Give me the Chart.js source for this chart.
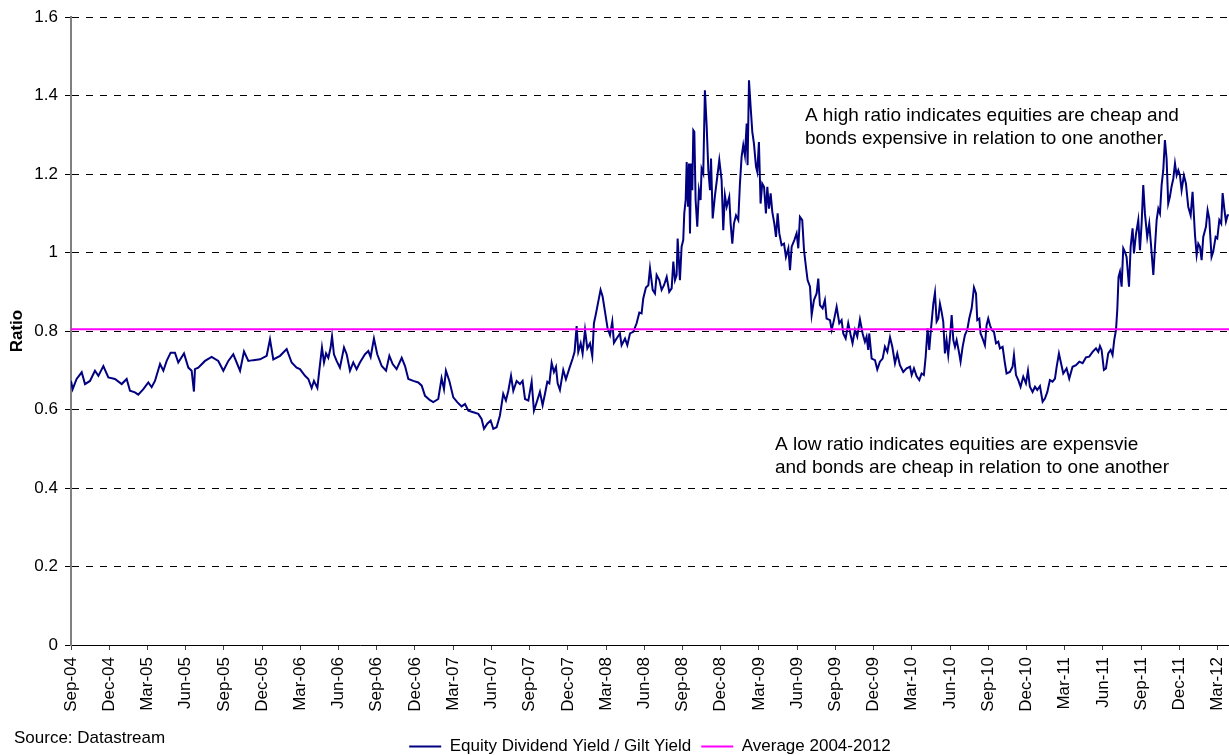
<!DOCTYPE html>
<html>
<head>
<meta charset="utf-8">
<title>Equity Dividend Yield / Gilt Yield</title>
<script src="https://cdn.jsdelivr.net/npm/chart.js@4.4.0/dist/chart.umd.min.js"></script>
<style>
  html, body { margin: 0; padding: 0; overflow: hidden; background: #fff; }
  #wrap { position: relative; width: 1229px; height: 765px; }
  #source { position: absolute; left: 14px; top: 728px; font: 17px/20px "Liberation Sans", Arial, sans-serif; color: #000; }
</style>
</head>
<body>
<div id="wrap">
  <canvas id="ratioChart" width="1229" height="765"></canvas>
  <div id="source">Source: Datastream</div>
</div>
<script>
// x = months since Sep-04
const quarterLabels = ['Sep-04', 'Dec-04', 'Mar-05', 'Jun-05', 'Sep-05', 'Dec-05', 'Mar-06', 'Jun-06',
  'Sep-06', 'Dec-06', 'Mar-07', 'Jun-07', 'Sep-07', 'Dec-07', 'Mar-08', 'Jun-08', 'Sep-08', 'Dec-08',
  'Mar-09', 'Jun-09', 'Sep-09', 'Dec-09', 'Mar-10', 'Jun-10', 'Sep-10', 'Dec-10', 'Mar-11', 'Jun-11',
  'Sep-11', 'Dec-11', 'Mar-12'];
const yTickLabels = ['0', '0.2', '0.4', '0.6', '0.8', '1', '1.2', '1.4', '1.6'];
const xMax = 90.9;
const averageRatio = 0.805;

const obsMonths = [
  // 2004-2006
  0, 0.13, 0.44, 0.84, 1.10, 1.49, 1.88, 2.15, 2.54, 2.93,
  3.45, 3.98, 4.37, 4.63, 5.02, 5.28, 5.68, 6.07, 6.33, 6.59,
  6.99, 7.25, 7.51, 7.82, 8.16, 8.42, 8.87, 9.21, 9.47, 9.65,
  9.73, 9.99, 10.52, 11.04, 11.56, 11.96, 12.35, 12.74, 13.27, 13.58,
  13.92, 14.31, 14.84, 15.36, 15.62, 15.88, 16.41, 16.93, 17.32, 17.71,
  // 2006-2007
  17.97, 18.37, 18.63, 18.89, 19.07, 19.34, 19.49, 19.70, 19.86, 20.02,
  20.20, 20.38, 20.49, 20.64, 20.85, 21.11, 21.43, 21.64, 21.90, 22.16,
  22.42, 22.68, 23.08, 23.34, 23.52, 23.78, 24.04, 24.39, 24.73, 24.99,
  25.25, 25.56, 25.96, 26.22, 26.48, 26.87, 27.26, 27.53, 27.79, 28.18,
  28.44, 28.83, 29.09, 29.28, 29.43, 29.70, 30.01, 30.32, 30.66, 30.93,
  31.19, 31.58, 31.97, 32.23, 32.42, 32.68, 32.94, 33.15, 33.41, 33.67,
  33.93, 34.14, 34.33, 34.54, 34.72, 34.98, 35.24, 35.45, 35.64, 35.90,
  36.16, 36.34, 36.60,
  // 2007-2008
  36.81, 37.02, 37.21, 37.39, 37.55, 37.73, 37.91, 38.07, 38.20, 38.38,
  38.64, 38.85, 39.12, 39.38, 39.53, 39.69, 39.82, 40.01, 40.16, 40.35,
  40.53, 40.74, 40.92, 41.05, 41.21, 41.39, 41.57, 41.73, 41.92, 42.12,
  42.31, 42.49, 42.62, 42.83, 43.09, 43.22, 43.49, 43.67, 43.88, 44.14,
  44.40, 44.61, 44.79, 44.92, 45.13, 45.32, 45.45, 45.66, 45.84, 45.97,
  46.18, 46.36, 46.55, 46.76, 46.96, 47.15, 47.28, 47.41, 47.54, 47.62,
  // 2008-2009
  47.80, 47.93, 48.06, 48.14, 48.25, 48.33, 48.43, 48.51, 48.59, 48.67,
  48.77, 48.85, 48.93, 49.03, 49.16, 49.29, 49.42, 49.50, 49.63, 49.76,
  49.90, 50.03, 50.16, 50.24, 50.37, 50.55, 50.73, 50.89, 51.07, 51.20,
  51.33, 51.47, 51.67, 51.78, 51.91, 52.04, 52.20, 52.38, 52.51, 52.64,
  52.77, 52.90, 53.04, 53.11, 53.22, 53.35, 53.48, 53.61, 53.77, 53.87,
  54.00, 54.13, 54.26, 54.40, 54.55, 54.66, 54.79, 54.92, 55.05, 55.21,
  55.34, 55.47, 55.60, 55.78, 55.97, 56.12, 56.31, 56.44, 56.57, 56.78,
  56.96, 57.09, 57.22, 57.40, 57.54, 57.69, 57.82, 58.01, 58.14, 58.32,
  58.53, 58.66, 58.79, 59.00, 59.18, 59.31, 59.58, 59.71, 59.89, 60.10,
  60.31, 60.49, 60.62, 60.81, 61.01, 61.20, 61.35, 61.54, 61.72, 61.93,
  // 2009-2011
  62.14, 62.32, 62.45, 62.58, 62.66, 62.85, 63.11, 63.29, 63.50, 63.71,
  63.89, 64.08, 64.29, 64.47, 64.68, 64.86, 65.07, 65.33, 65.59, 65.86,
  65.99, 66.17, 66.38, 66.59, 66.77, 66.95, 67.09, 67.24, 67.37, 67.50,
  67.69, 67.82, 67.95, 68.08, 68.21, 68.34, 68.47, 68.60, 68.73, 68.86,
  69.00, 69.13, 69.26, 69.39, 69.52, 69.70, 69.83, 69.99, 70.17, 70.36,
  70.51, 70.70, 70.88, 71.04, 71.14, 71.30, 71.40, 71.56, 71.74, 71.87,
  72.00, 72.14, 72.27, 72.45, 72.61, 72.79, 72.92, 73.13, 73.31, 73.44,
  73.70, 73.91, 74.02, 74.18, 74.36, 74.54, 74.75, 74.96, 75.12, 75.27,
  75.48, 75.67, 75.85, 76.06, 76.27, 76.45, 76.64, 76.84, 77.05, 77.24,
  77.37, 77.55,
  // 2011-2012
  77.89, 78.15, 78.36, 78.62, 78.89, 79.15, 79.41, 79.67, 79.93, 80.19,
  80.46, 80.64, 80.77, 80.90, 81.08, 81.24, 81.42, 81.61, 81.76, 81.89,
  82.03, 82.13, 82.23, 82.34, 82.47, 82.60, 82.73, 82.86, 83.05, 83.18,
  83.33, 83.44, 83.59, 83.78, 83.91, 84.04, 84.17, 84.30, 84.48, 84.64,
  84.77, 84.96, 85.09, 85.22, 85.35, 85.48, 85.61, 85.74, 85.87, 86.00,
  86.13, 86.26, 86.39, 86.53, 86.66, 86.79, 86.92, 87.05, 87.18, 87.36,
  87.52, 87.70, 87.89, 88.04, 88.23, 88.36, 88.49, 88.62, 88.75, 88.88,
  89.09, 89.22, 89.35, 89.53, 89.66, 89.85, 89.98, 90.14, 90.29, 90.40,
  90.53, 90.66, 90.79, 90.89
];

const ratioValues = [
  // 2004-2006
  .673, .652, .678, .695, .665, .673, .699, .686, .711, .682,
  .678, .665, .678, .648, .644, .638, .652, .669, .657, .673,
  .716, .699, .724, .745, .745, .720, .743, .707, .699, .646,
  .703, .707, .724, .734, .724, .699, .724, .741, .699, .748,
  .724, .726, .728, .737, .779, .728, .737, .754, .720, .707,
  // 2006-2007
  .703, .686, .678, .655, .673, .655, .699, .758, .720, .743,
  .732, .758, .787, .741, .724, .707, .758, .741, .699, .720,
  .703, .720, .741, .749, .734, .781, .741, .711, .699, .737,
  .716, .703, .732, .711, .678, .673, .669, .661, .635, .624,
  .619, .627, .680, .652, .699, .673, .631, .619, .608, .614,
  .597, .593, .589, .576, .551, .564, .572, .551, .555, .585,
  .640, .623, .648, .686, .648, .673, .665, .673, .627, .623,
  .671, .597, .623,
  // 2007-2008
  .645, .611, .641, .671, .667, .719, .696, .709, .667, .650,
  .701, .677, .705, .730, .747, .813, .747, .769, .743, .803,
  .756, .769, .736, .820, .845, .875, .905, .888, .849, .807,
  .790, .824, .770, .781, .794, .764, .781, .764, .794, .798,
  .820, .847, .845, .883, .911, .917, .960, .905, .896, .943,
  .930, .905, .917, .938, .900, .909, .977, .930, .943, 1.036,
  // 2008-2009
  .930, 1.015, 1.032, 1.100, 1.134, 1.231, 1.117, 1.227, 1.049, 1.227,
  1.159, 1.312, 1.308, 1.134, 1.066, 1.159, 1.134, 1.214, 1.202, 1.414,
  1.321, 1.210, 1.159, 1.240, 1.087, 1.146, 1.193, 1.236, 1.185, 1.057,
  1.146, 1.117, 1.142, 1.074, 1.023, 1.074, 1.095, 1.083, 1.176, 1.244,
  1.274, 1.248, 1.329, 1.223, 1.439, 1.371, 1.308, 1.278, 1.219, 1.206,
  1.282, 1.125, 1.176, 1.168, 1.100, 1.168, 1.112, 1.151, 1.104, 1.074,
  1.040, 1.100, 1.049, 1.019, 1.023, .989, 1.011, .955, 1.015, 1.032,
  1.049, 1.011, 1.091, 1.083, 1.006, .964, .930, .913, .841, .879,
  .896, .934, .866, .858, .879, .832, .828, .803, .828, .862,
  .820, .828, .794, .781, .820, .790, .769, .803, .786, .830,
  // 2009-2011
  .794, .773, .786, .752, .794, .730, .726, .702, .722, .730,
  .760, .747, .784, .760, .718, .743, .713, .696, .705, .709,
  .688, .705, .685, .675, .692, .688, .735, .807, .752, .803,
  .870, .898, .824, .832, .870, .849, .824, .743, .777, .739,
  .786, .841, .777, .760, .777, .747, .722, .760, .790, .804,
  .832, .858, .911, .896, .828, .832, .794, .781, .764, .815,
  .832, .815, .803, .798, .769, .773, .756, .760, .718, .692,
  .696, .709, .739, .688, .675, .658, .684, .667, .699, .658,
  .645, .658, .650, .660, .620, .628, .645, .675, .671, .679,
  .709, .743,
  // 2011-2012
  .692, .705, .679, .709, .713, .722, .718, .733, .735, .747,
  .756, .747, .762, .752, .701, .705, .743, .752, .739, .777,
  .803, .854, .938, .951, .913, 1.011, 1.002, .989, .913, 1.015,
  1.062, .998, 1.045, 1.083, 1.006, 1.074, 1.172, 1.100, 1.040, 1.074,
  1.023, .943, 1.015, 1.083, 1.112, 1.100, 1.172, 1.210, 1.287, 1.240,
  1.125, 1.142, 1.168, 1.189, 1.227, 1.197, 1.210, 1.197, 1.159, 1.197,
  1.176, 1.117, 1.095, 1.155, 1.045, .994, 1.023, 1.015, .981, 1.040,
  1.066, 1.108, 1.087, .989, 1.002, 1.040, 1.036, 1.083, 1.074, 1.152,
  1.112, 1.079, 1.095, 1.095
];

// text boxes on the plot, anchored in data units (month, ratio)
const notes = [
  { x: 57.61, y: 1.336, lines: ['A high ratio indicates equities are cheap and', 'bonds expensive in relation to one another'] },
  { x: 55.26, y: 0.497, lines: ['A low ratio indicates equities are expensvie', 'and bonds are cheap in relation to one another'] }
];

const FONT = '"Liberation Sans", Arial, sans-serif';
Chart.defaults.font.family = FONT;
Chart.defaults.font.size = 17;
Chart.defaults.color = '#000';

const notesPlugin = {
  id: 'notes',
  afterDatasetsDraw(chart) {
    const { ctx, scales } = chart;
    ctx.save();
    ctx.font = '19px ' + FONT;
    ctx.fillStyle = '#000';
    ctx.textBaseline = 'alphabetic';
    notes.forEach(n => {
      const px = scales.x.getPixelForValue(n.x);
      const py = scales.y.getPixelForValue(n.y);
      n.lines.forEach((t, k) => ctx.fillText(t, px, py + k * 23));
    });
    ctx.restore();
  }
};

const ctx = document.getElementById('ratioChart').getContext('2d');
const ratioChart = new Chart(ctx, {
  type: 'line',
  data: {
    datasets: [
      {
        label: 'Equity Dividend Yield / Gilt Yield',
        data: obsMonths.map((m, i) => ({ x: m, y: ratioValues[i] })),
        borderColor: '#000080',
        backgroundColor: '#000080',
        borderWidth: 2,
        pointRadius: 0,
        tension: 0,
        order: 1
      },
      {
        label: 'Average 2004-2012',
        data: [{ x: 0, y: averageRatio }, { x: xMax, y: averageRatio }],
        borderColor: '#ff00ff',
        backgroundColor: '#ff00ff',
        borderWidth: 2,
        pointRadius: 0,
        order: 0
      }
    ]
  },
  options: {
    responsive: false,
    animation: false,
    layout: { padding: { top: 16, right: 0, bottom: 0, left: 0 } },
    plugins: {
      legend: {
        position: 'bottom',
        fullSize: false,
        labels: {
          usePointStyle: true,
          pointStyle: 'line',
          pointStyleWidth: 32,
          padding: 10,
          font: { size: 17 },
          sort: (a, b) => a.datasetIndex - b.datasetIndex
        }
      },
      tooltip: { enabled: false }
    },
    scales: {
      x: {
        type: 'linear',
        min: 0,
        max: xMax,
        grid: { drawOnChartArea: false, drawTicks: true, tickLength: 5, color: '#444' },
        border: { color: '#000', width: 1 },
        ticks: {
          stepSize: 3,
          includeBounds: false,
          autoSkip: false,
          minRotation: 90,
          maxRotation: 90,
          padding: 7,
          callback: v => quarterLabels[Math.round(v / 3)]
        },
        afterFit: s => {
          s.height = 83;
          s.paddingLeft = 0;
          s.paddingRight = 0;
        }
      },
      y: {
        min: 0,
        max: 1.6,
        ticks: {
          stepSize: 0.2,
          padding: 7,
          callback: (v, i) => yTickLabels[i]
        },
        grid: { color: '#000', lineWidth: 1, tickLength: 6 },
        border: { color: '#808080', width: 2, dash: [7, 7] },
        title: {
          display: true,
          text: 'Ratio',
          font: { size: 17, weight: 'bold' },
          padding: { top: 7, bottom: 0 }
        },
        afterFit: s => { s.width = 71; }
      }
    }
  },
  plugins: [notesPlugin]
});
</script>
</body>
</html>
